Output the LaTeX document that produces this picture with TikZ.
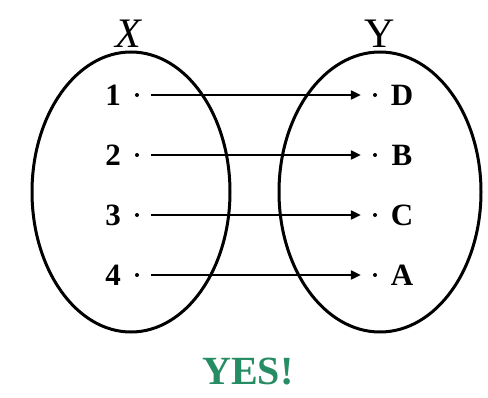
\documentclass[tikz,border=0pt]{standalone}
\usepackage{fontspec}
\setmainfont{Liberation Serif}
\usetikzlibrary{arrows.meta}
\definecolor{yesgreen}{RGB}{38,140,100}
\begin{document}
\begin{tikzpicture}[x=1pt,y=-1pt,
  setell/.style={draw, line width=3pt},
  elemlbl/.style={font=\fontsize{31}{34}\selectfont\bfseries, inner sep=0pt},
  setlbl/.style={font=\fontsize{42}{44}\selectfont, inner sep=0pt},
  pt/.style={circle, fill, inner sep=0pt, minimum size=4pt},
  maparrow/.style={line width=2.2pt, -{Triangle[length=10pt,width=9pt]}, shorten <=12pt, shorten >=12pt}]
\useasboundingbox (0,0) rectangle (488,398);
\fill[white] (0,0) rectangle (488,398);
% sets
\draw[setell] (131,192) ellipse [x radius=99, y radius=140];
\draw[setell] (380,192) ellipse [x radius=101, y radius=140];
\node[setlbl] (lx) at (128,34) {\itshape X};
\node[setlbl] (ly) at (380,34) {Y};
% domain
\foreach \n/\y in {1/95,2/155,3/215,4/275}{
  \node[elemlbl] (n\n) at (113,\y) {\n};
  \node[pt] (d\n) at (137,\y) {};
}
% codomain
\foreach \n/\l/\y in {1/D/95,2/B/155,3/C/215,4/A/275}{
  \node[pt] (e\n) at (375,\y) {};
  \node[elemlbl] (m\n) at (402,\y) {\l};
}
\foreach \n in {1,2,3,4}{
  \draw[maparrow] (d\n) -- (e\n);
}
\node[font=\fontsize{40}{44}\selectfont\bfseries, text=yesgreen, inner sep=0pt] (yes) at (248,372) {YES!};
\end{tikzpicture}
\end{document}
